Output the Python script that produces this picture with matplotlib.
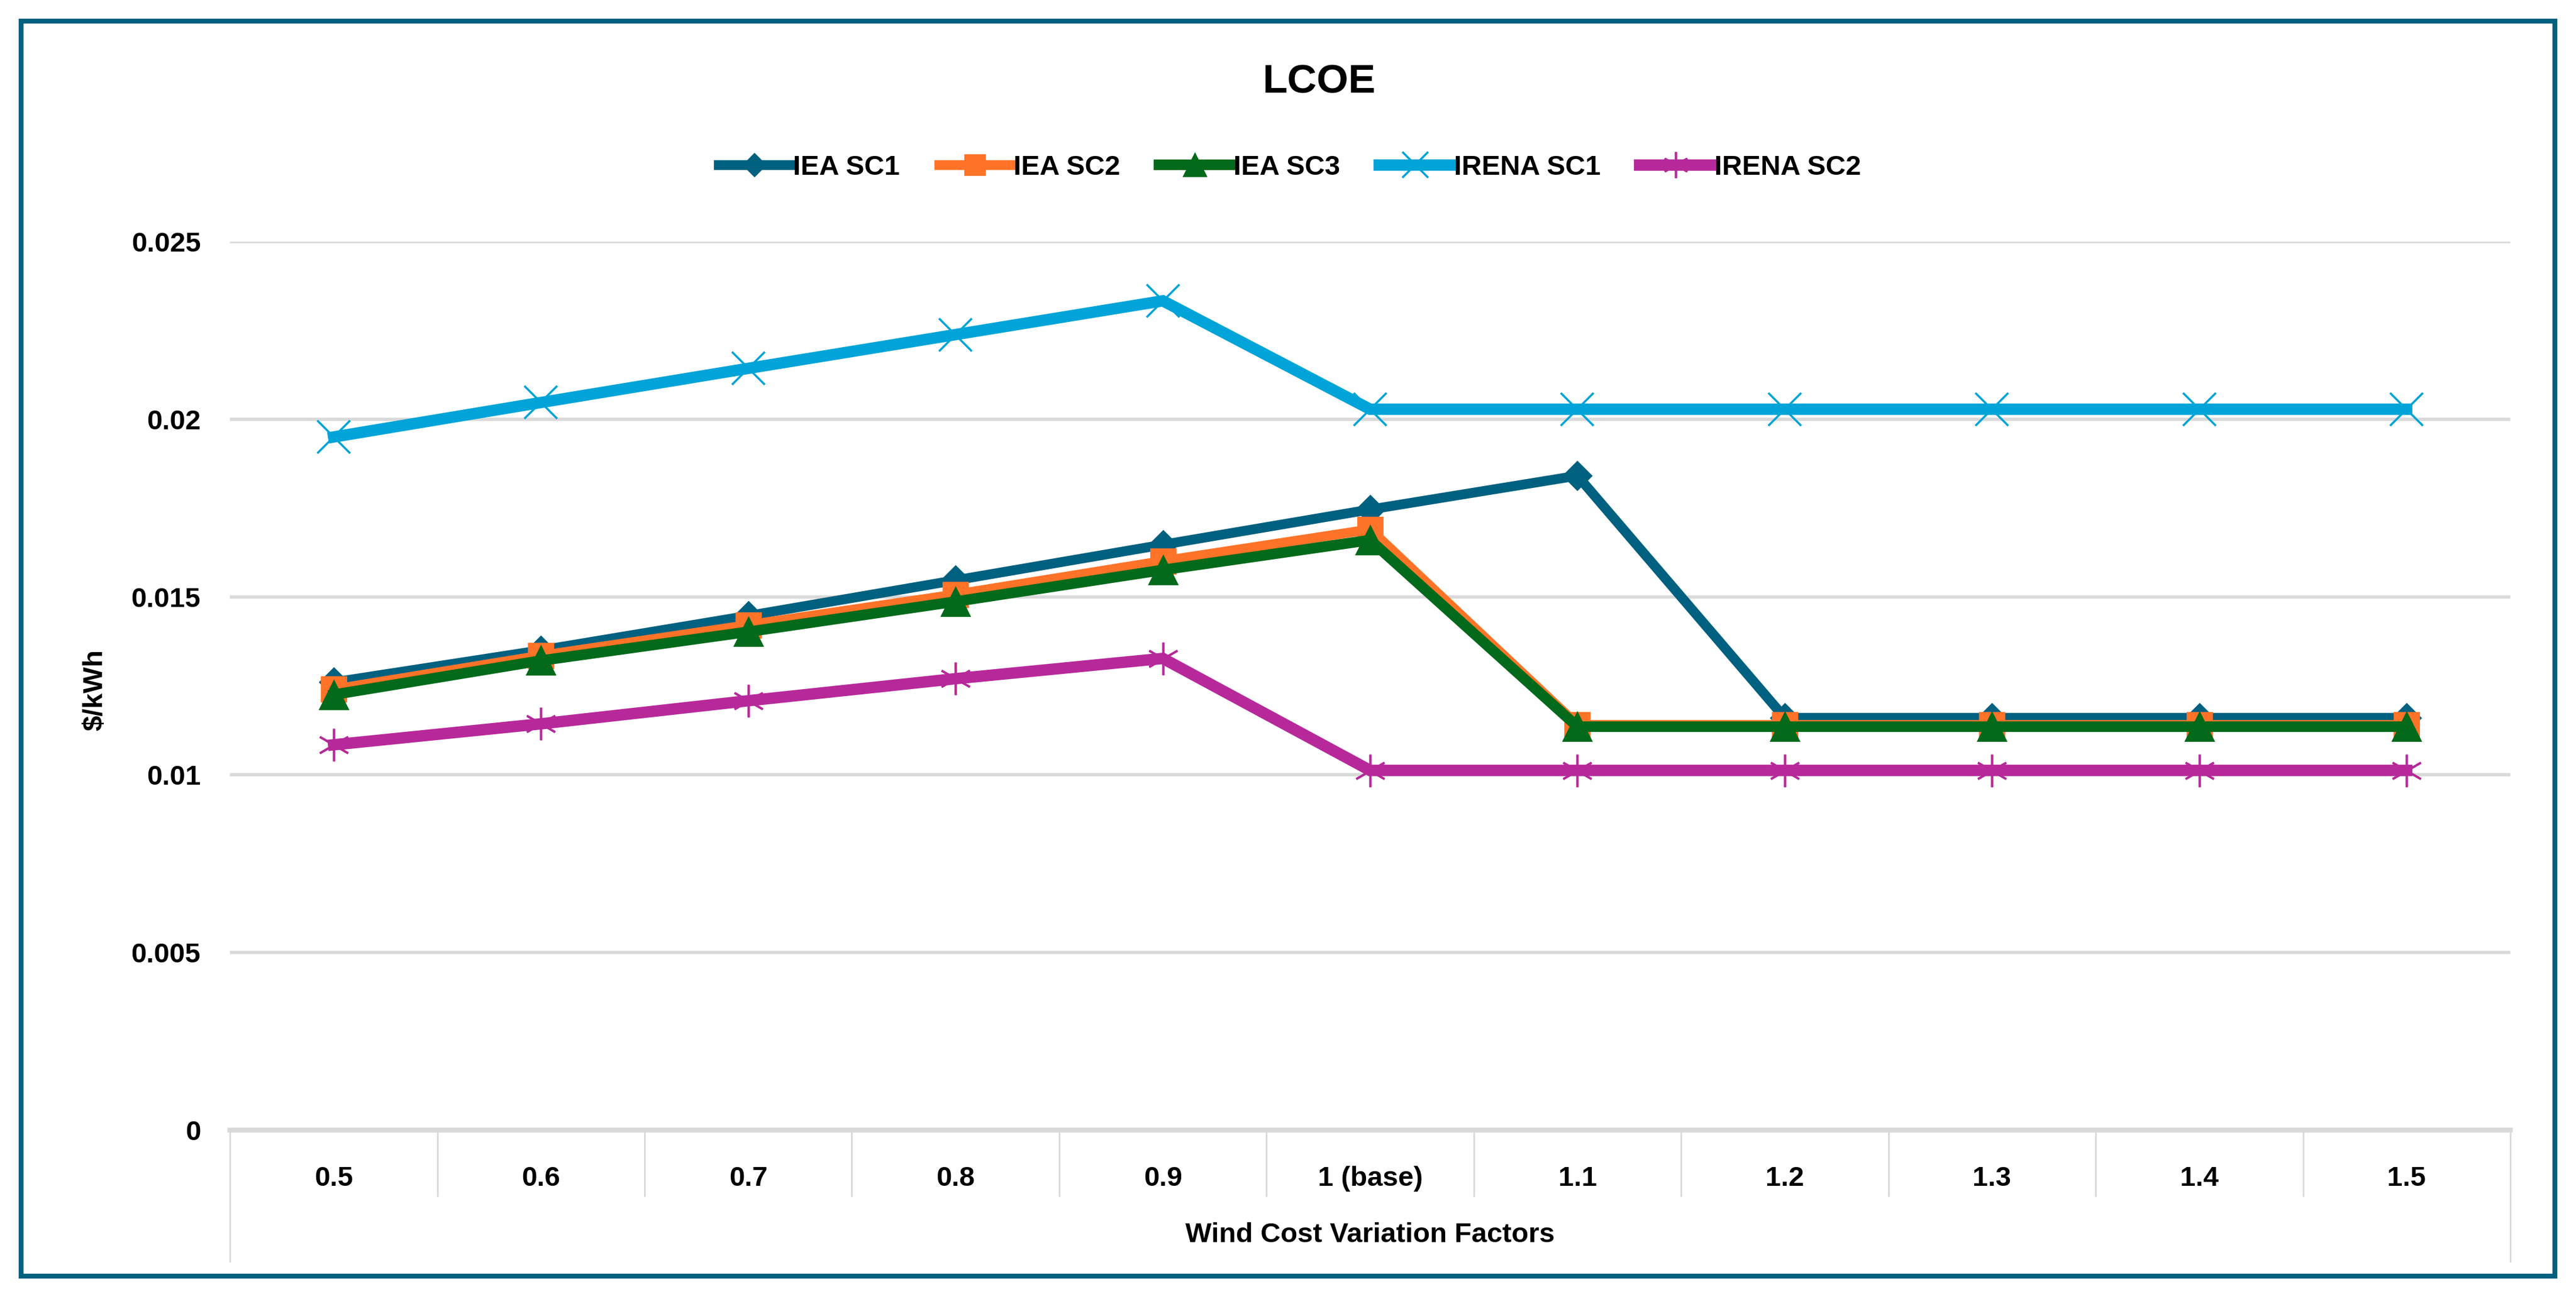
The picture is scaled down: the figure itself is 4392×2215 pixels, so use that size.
import matplotlib
matplotlib.use("Agg")
import matplotlib.pyplot as plt
from matplotlib.patches import Rectangle
import matplotlib.transforms as mtransforms

categories = ["0.5", "0.6", "0.7", "0.8", "0.9", "1 (base)", "1.1", "1.2", "1.3", "1.4", "1.5"]
iea_sc1 = [0.01260, 0.01350, 0.01447, 0.01547, 0.01647, 0.01746, 0.01841, 0.01160, 0.01160, 0.01160, 0.01160]
iea_sc2 = [0.01240, 0.01335, 0.01421, 0.01507, 0.01601, 0.01690, 0.01140, 0.01140, 0.01140, 0.01140, 0.01140]
iea_sc3 = [0.01225, 0.01321, 0.01402, 0.01487, 0.01576, 0.01660, 0.01135, 0.01135, 0.01135, 0.01135, 0.01135]
irena_sc1 = [0.01950, 0.02047, 0.02143, 0.02238, 0.02333, 0.02028, 0.02028, 0.02028, 0.02028, 0.02028, 0.02028]
irena_sc2 = [0.01084, 0.01143, 0.01208, 0.01270, 0.01327, 0.01012, 0.01012, 0.01012, 0.01012, 0.01012, 0.01012]
yticks = [0, 0.005, 0.01, 0.015, 0.02, 0.025]
ytick_labels = ["0", "0.005", "0.01", "0.015", "0.02", "0.025"]

plt.rcParams['font.family'] = ['Liberation Sans Narrow', 'Liberation Sans', 'DejaVu Sans']
plt.rcParams['font.weight'] = 'bold'

W, H = 4392, 2215
DPI = 200
fig = plt.figure(figsize=(W / DPI, H / DPI), dpi=DPI)
fig.patch.set_facecolor('white')

# outer border
fig.patches.append(Rectangle((13 / 1568, 1 - 777 / 790.8), (1555 - 13) / 1568, (777 - 13) / 790.8,
                             transform=fig.transFigure, fill=False, edgecolor='#00607F', linewidth=3.0))

left, right = 140 / 1568, 1528 / 1568
top, bottom = 1 - 147 / 790.8, 1 - 688 / 790.8
ax = fig.add_axes([left, bottom, right - left, top - bottom])

x = list(range(len(categories)))
series = [
    ("IEA SC1", iea_sc1, '#00607F', 'D', 12, 6.0, 1.0),
    ("IEA SC2", iea_sc2, '#FF7328', 's', 15, 6.0, 1.0),
    ("IEA SC3", iea_sc3, '#026A1A', '^', 17, 6.5, 1.0),
    ("IRENA SC1", irena_sc1, '#00A4D8', 'x', 20, 7.0, 1.3),
    ("IRENA SC2", irena_sc2, '#B7299A', (6, 2, 0), 20, 7.0, 1.3),
]
for name, vals, col, mk, ms, lw, mew in series:
    ax.plot(x, vals, color=col, linewidth=lw, marker=mk, markersize=ms,
            markerfacecolor=col, markeredgecolor=col, markeredgewidth=mew,
            label=name, solid_joinstyle='miter', clip_on=False)

ax.set_xlim(-0.5, len(categories) - 0.5)
ax.set_ylim(0, 0.025)
ax.set_yticks(yticks)
ax.set_yticklabels(ytick_labels)
ax.yaxis.grid(True, color='#D9D9D9', linewidth=2.0)
ax.set_axisbelow(True)
for s in ['top', 'right', 'left']:
    ax.spines[s].set_visible(False)
ax.spines['bottom'].set_color('#D9D9D9')
ax.spines['bottom'].set_linewidth(3.0)
ax.tick_params(axis='y', length=0, pad=18, labelsize=17)
ax.tick_params(axis='x', length=0, pad=22, labelsize=17)
ax.set_xticks(x)
ax.set_xticklabels(categories)
for lab in ax.get_yticklabels() + ax.get_xticklabels():
    lab.set_fontweight('bold')

# category separators (multi-level category axis style)
trans = mtransforms.blended_transform_factory(ax.transData, ax.transAxes)
ax_h_px = (688 - 147)
sep_low = -(728 - 688) / ax_h_px
outer_low = -(768 - 688) / ax_h_px
for i in range(1, len(categories)):
    ax.plot([i - 0.5, i - 0.5], [0, sep_low], transform=trans, color='#D9D9D9',
            linewidth=1.0, clip_on=False, zorder=0)
for xe in [-0.5, len(categories) - 0.5]:
    ax.plot([xe, xe], [0, outer_low], transform=trans, color='#D9D9D9',
            linewidth=1.0, clip_on=False, zorder=0)

ax.text(0.5, -(752 - 688) / ax_h_px, "Wind Cost Variation Factors", transform=ax.transAxes,
        ha='center', va='center', fontsize=17, fontweight='bold')
fig.text(58 / 1568, 1 - 420 / 790.8, "$/kWh", rotation=90, ha='center', va='center',
         fontsize=17, fontweight='bold')
fig.text(803 / 1568, 1 - 50 / 790.8, "LCOE", ha='center', va='center',
         fontsize=25, fontweight='bold')

leg = fig.legend(loc='center', bbox_to_anchor=(785 / 1568, 1 - 102 / 790.8), ncol=5,
                 frameon=False, fontsize=17, handlelength=2.6, handletextpad=0.1,
                 columnspacing=1.4, markerscale=0.8)
for t in leg.get_texts():
    t.set_fontweight('bold')

fig.savefig("out.png", dpi=DPI, facecolor='white')
